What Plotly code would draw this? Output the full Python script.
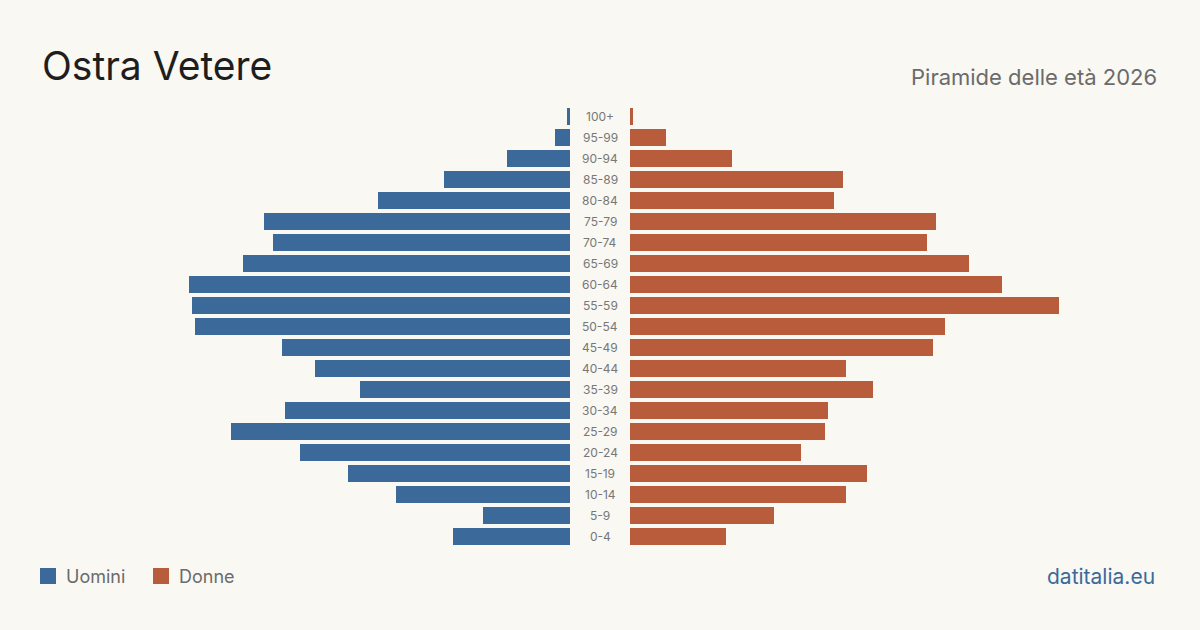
import plotly.graph_objects as go

# Age groups, top (oldest) to bottom (youngest)
age_groups = ["100+", "95-99", "90-94", "85-89", "80-84", "75-79", "70-74", "65-69",
              "60-64", "55-59", "50-54", "45-49", "40-44", "35-39", "30-34", "25-29",
              "20-24", "15-19", "10-14", "5-9", "0-4"]
uomini = [1, 5, 21, 42, 64, 102, 99, 109, 127, 126, 125, 96, 85, 70, 95, 113, 90, 74, 58, 29, 39]
donne = [1, 12, 34, 71, 68, 102, 99, 113, 124, 143, 105, 101, 72, 81, 66, 65, 57, 79, 72, 48, 32]

title = "Ostra Vetere"
subtitle = "Piramide delle età 2026"
source = "datitalia.eu"

BLUE = "#3b6a9a"
ORANGE = "#b95c3c"
BG = "#f9f8f3"
W, H = 1200, 630
FONT = "Inter"

fig = go.Figure()
fig.add_trace(go.Bar(y=age_groups, x=uomini, orientation="h", name="Uomini",
                     marker=dict(color=BLUE, line=dict(width=0)),
                     xaxis="x", yaxis="y", showlegend=False))
fig.add_trace(go.Bar(y=age_groups, x=donne, orientation="h", name="Donne",
                     marker=dict(color=ORANGE, line=dict(width=0)),
                     xaxis="x2", yaxis="y", showlegend=False))

rng = 530 / 3.0
y_top = 106
y_bot = 547
fig.update_layout(
    width=W, height=H,
    margin=dict(l=0, r=0, t=0, b=0),
    paper_bgcolor=BG, plot_bgcolor=BG,
    bargap=0.19,
    font=dict(family=FONT),
    xaxis=dict(domain=[40 / W, 570 / W], range=[rng, 0], visible=False, fixedrange=True),
    xaxis2=dict(domain=[630 / W, 1160 / W], range=[0, rng], visible=False, fixedrange=True),
    yaxis=dict(domain=[(H - y_bot) / H, (H - y_top) / H], categoryorder="array",
               categoryarray=age_groups[::-1], visible=False, fixedrange=True),
)

annotations = []
for g in age_groups:
    annotations.append(dict(x=0.5, xref="paper", y=g, yref="y", text=g, showarrow=False,
                            font=dict(size=12, color="#777777", family=FONT),
                            xanchor="center", yanchor="middle"))
annotations += [
    dict(x=40 / W, y=1 - 66 / H, xref="paper", yref="paper", text=title, showarrow=False,
         xanchor="left", yanchor="middle", font=dict(size=39, color="#1e1e1e", family=FONT)),
    dict(x=1159 / W, y=1 - 77 / H, xref="paper", yref="paper", text=subtitle, showarrow=False,
         xanchor="right", yanchor="middle", font=dict(size=22, color="#6b6b6b", family=FONT)),
    dict(x=64 / W, y=1 - 576 / H, xref="paper", yref="paper", text="Uomini", showarrow=False,
         xanchor="left", yanchor="middle", font=dict(size=18, color="#6b6b6b", family=FONT)),
    dict(x=177 / W, y=1 - 576 / H, xref="paper", yref="paper", text="Donne", showarrow=False,
         xanchor="left", yanchor="middle", font=dict(size=18, color="#6b6b6b", family=FONT)),
    dict(x=1157 / W, y=1 - 576 / H, xref="paper", yref="paper", text=source, showarrow=False,
         xanchor="right", yanchor="middle", font=dict(size=21, color="#3b6a9a", family=FONT)),
]
fig.update_layout(annotations=annotations)

fig.update_layout(shapes=[
    dict(type="rect", xref="paper", yref="paper", x0=40 / W, x1=56 / W,
         y0=1 - 584 / H, y1=1 - 568 / H, fillcolor=BLUE, line=dict(width=0)),
    dict(type="rect", xref="paper", yref="paper", x0=153 / W, x1=169 / W,
         y0=1 - 584 / H, y1=1 - 568 / H, fillcolor=ORANGE, line=dict(width=0)),
])

fig.write_html("out.html", config={"displayModeBar": False})
